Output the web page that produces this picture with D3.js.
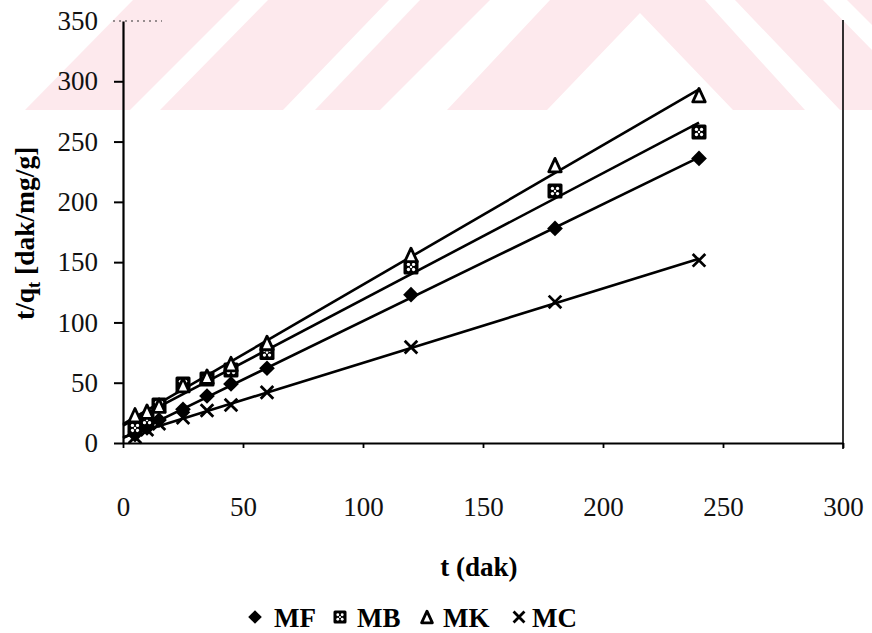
<!DOCTYPE html>
<html><head><meta charset="utf-8">
<script src="https://cdn.jsdelivr.net/npm/d3@7"></script>
<style>body{margin:0;background:#fff}svg{display:block}</style></head>
<body><svg id="c" width="872" height="633"></svg>
<script>
// ---- data ----
const times = [5, 10, 15, 25, 35, 45, 60, 120, 180, 240];
const seriesNames = ["MF", "MB", "MK", "MC"];
const mfValues = [7, 12.5, 19, 28, 39, 49, 62, 123, 178, 236];
const mbValues = [12.5, 19, 31.5, 49, 53, 60.5, 75, 146, 209, 258];
const mkValues = [23, 26, 31, 48, 55, 65.5, 83, 156, 230.5, 288.5];
const mcValues = [5, 11, 16, 21, 27, 31.5, 42, 79.5, 117, 151.5];
const xTicks = [0, 50, 100, 150, 200, 250, 300];
const yTicks = [0, 50, 100, 150, 200, 250, 300, 350];
const xTitle = "t (dak)";

const series = [
  {name: seriesNames[0], values: mfValues, sym: "diamond"},
  {name: seriesNames[1], values: mbValues, sym: "square"},
  {name: seriesNames[2], values: mkValues, sym: "triangle"},
  {name: seriesNames[3], values: mcValues, sym: "cross"}
];

const svg = d3.select("#c");
const FONT = "'Liberation Serif','Times New Roman',serif";

// ---- background watermark (decorative) ----
const wm = svg.append("g").attr("fill", "#fde9ed");
const polys = [
  [[25,110],[133,0],[240,0],[130,110]],
  [[160,110],[268,0],[389,0],[283,110]],
  [[315,110],[420,0],[490,0],[380,110]],
  [[447,110],[550,0],[705,0],[805,110],[733,110],[640,13],[547,110]],
  [[735,0],[823,0],[872,50],[872,110],[840,110]],
  [[847,0],[872,0],[872,25]]
];
polys.forEach(p => wm.append("polygon").attr("points", p.map(d => d.join(",")).join(" ")));

// ---- scales ----
const x = d3.scaleLinear().domain([0, 300]).range([123, 843]);
const y = d3.scaleLinear().domain([0, 350]).range([443, 21]);

// ---- axes ----
const yAxis = svg.append("g").attr("transform", "translate(123,0)")
  .call(d3.axisLeft(y).tickValues(yTicks).tickSize(9).tickSizeOuter(0).tickPadding(16).tickFormat(d3.format("d")));
yAxis.selectAll("text").attr("font-family", FONT).attr("font-size", 27).attr("fill", "#111");
yAxis.select(".domain").attr("stroke-width", 2.2);
yAxis.selectAll(".tick line").attr("stroke-width", 2);
yAxis.selectAll(".tick").filter(d => d === 350).select("line").remove();

const xAxis = svg.append("g").attr("transform", "translate(0,443)")
  .call(d3.axisBottom(x).tickValues(xTicks).tickSize(5).tickSizeOuter(0).tickFormat(d3.format("d")));
xAxis.selectAll("text").attr("font-family", FONT).attr("font-size", 27).attr("fill", "#111")
  .attr("y", 64).attr("dy", "0.35em");
xAxis.select(".domain").attr("stroke-width", 2.2);
xAxis.selectAll(".tick line").attr("stroke-width", 1.8);

// right border and dotted top fragment
svg.append("line").attr("x1", x(300)).attr("x2", x(300)).attr("y1", 20).attr("y2", 449)
  .attr("stroke", "#000").attr("stroke-width", 1.6);
svg.append("line").attr("x1", 113).attr("x2", 162).attr("y1", y(350)).attr("y2", y(350))
  .attr("stroke", "#333").attr("stroke-width", 1.2).attr("stroke-dasharray", "2,4");

// axis titles
svg.append("text").attr("x", 479).attr("y", 567).attr("dy", "0.35em").attr("text-anchor", "middle")
  .attr("font-family", FONT).attr("font-size", 27).attr("font-weight", "bold").text(xTitle);
const yt = svg.append("text").attr("transform", "translate(34,320) rotate(-90)")
  .attr("text-anchor", "start").attr("font-family", FONT).attr("font-size", 27.5).attr("font-weight", "bold");
yt.append("tspan").text("t/q");
yt.append("tspan").attr("font-size", 18).attr("dy", 6).text("t");
yt.append("tspan").attr("dy", -6).text(" [dak/mg/g]");

// ---- regression lines ----
function fit(xs, ys) {
  const mx = d3.mean(xs), my = d3.mean(ys);
  const sxy = d3.sum(xs, (v, i) => (v - mx) * (ys[i] - my));
  const sxx = d3.sum(xs, v => (v - mx) * (v - mx));
  const b = sxy / sxx;
  return {a: my - b * mx, b};
}
const line = d3.line().x(d => x(d[0])).y(d => y(d[1]));
series.forEach(s => {
  const f = fit(times, s.values);
  const pts = [0, d3.max(times)].map(t => [t, f.a + f.b * t]);
  svg.append("path").attr("d", line(pts)).attr("fill", "none").attr("stroke", "#000").attr("stroke-width", 2.6);
});

// ---- markers ----
function marker(g, type, cx, cy, s) {
  if (type === "diamond") {
    g.append("rect").attr("x", cx - s*0.37).attr("y", cy - s*0.37).attr("width", s*0.74).attr("height", s*0.74)
      .attr("transform", `rotate(45,${cx},${cy})`).attr("fill", "#000");
  } else if (type === "square") {
    g.append("rect").attr("x", cx - s/2).attr("y", cy - s/2).attr("width", s).attr("height", s).attr("fill", "#000").attr("rx", 1.5);
    [[-1,-1],[1,-1],[-1,1],[1,1]].forEach(o => g.append("circle").attr("cx", cx + o[0]*s*0.17).attr("cy", cy + o[1]*s*0.17)
      .attr("r", s*0.11).attr("fill", "#fff"));
    g.append("circle").attr("cx", cx).attr("cy", cy).attr("r", s*0.08).attr("fill", "#fff");
  } else if (type === "triangle") {
    const h = s * 0.9;
    g.append("path").attr("d", `M${cx},${cy - h/2}L${cx + s/2.4},${cy + h/2}L${cx - s/2.4},${cy + h/2}Z`)
      .attr("fill", "#fff").attr("stroke", "#000").attr("stroke-width", 2.8).attr("stroke-linejoin", "round");
  } else {
    const r = s * 0.42;
    g.append("path").attr("d", `M${cx - r},${cy - r}L${cx + r},${cy + r}M${cx - r},${cy + r}L${cx + r},${cy - r}`)
      .attr("stroke", "#000").attr("stroke-width", 2.8).attr("fill", "none");
  }
}
series.forEach(s => {
  const g = svg.append("g");
  times.forEach((t, i) => marker(g, s.sym, x(t), y(s.values[i]), 15));
});

// ---- legend ----
const legendItems = [
  {sym: "diamond", mx: 255, tx: 274},
  {sym: "square", mx: 340, tx: 357},
  {sym: "triangle", mx: 427, tx: 443},
  {sym: "cross", mx: 519, tx: 532}
];
const lg = svg.append("g");
series.forEach((s, i) => {
  const it = legendItems[i];
  marker(lg, s.sym, it.mx, 617, 13);
  lg.append("text").attr("x", it.tx).attr("y", 627).attr("font-family", FONT).attr("font-size", 27)
    .attr("font-weight", "bold").text(s.name);
});
</script></body></html>
